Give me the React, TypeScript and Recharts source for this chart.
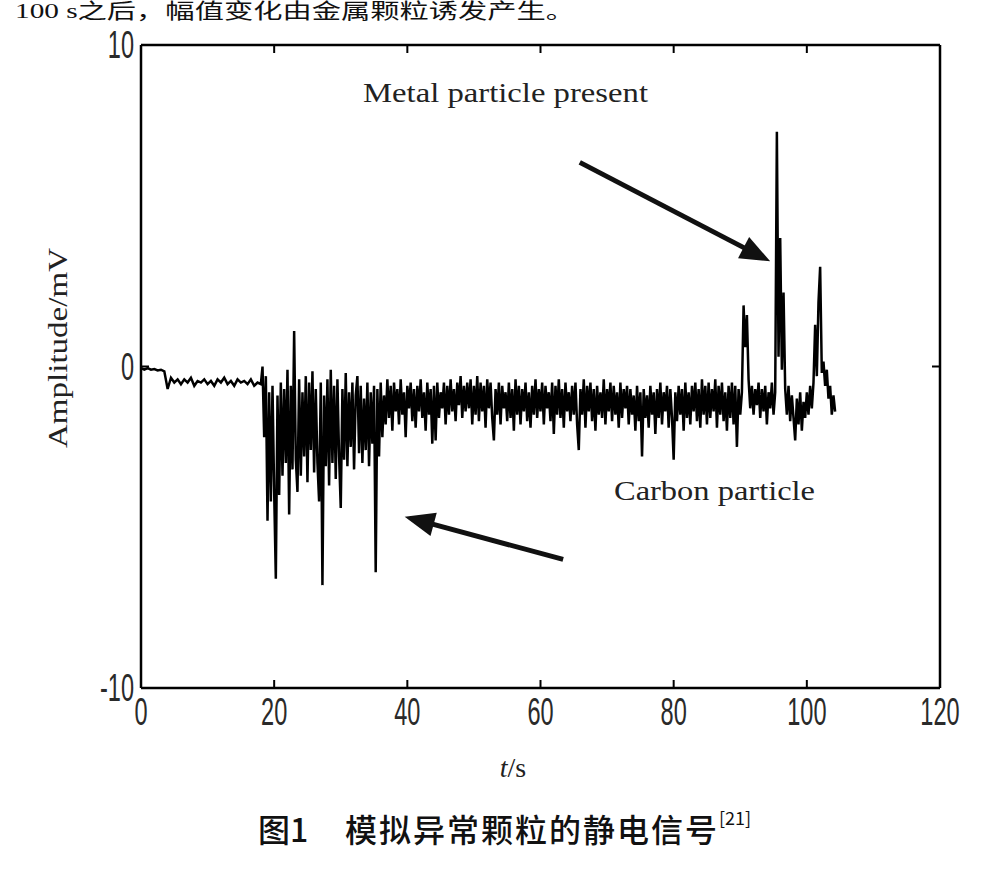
import React from "react";
import { LineChart, Line, XAxis, YAxis, ReferenceLine } from "recharts";

// 静電信号（模擬異常粒子）: 区間ごとのサンプル値 [mV]

// 0–18 s, 0.5 s 間隔
const baselineStart = 0;
const baselineStep = 0.5;
const baseline = [
  -0.05, -0.1, -0.05, -0.1, -0.08, -0.12, -0.1, -0.15, -0.7, -0.35, -0.5, -0.4,
  -0.55, -0.4, -0.5, -0.35, -0.6, -0.45, -0.5, -0.4, -0.55, -0.45, -0.6, -0.4,
  -0.5, -0.35, -0.55, -0.45, -0.6, -0.4, -0.5, -0.45, -0.55, -0.4, -0.6, -0.5,
  -0.55,
];

// 18.25–37 s, 炭素粒子のバースト
const carbonStart = 18.25;
const carbonStep = 0.25;
const carbonBurst = [
  0.0, -2.2, -0.3, -4.8, -0.8, -4.2, -0.6, -3.9, -6.6, -0.9, -4.0, -0.5,
  -3.4, -0.7, -3.0, -0.1, -4.6, -0.6, -3.2, 1.1, -2.9, -3.9, -0.4, -3.4,
  -0.8, -2.8, -0.3, -3.6, -0.5, -2.6, -0.15, -3.3, -0.7, -3.0, -4.2, -0.5,
  -6.8, -0.9, -3.1, -0.4, -3.7, -0.1, -3.0, -0.6, -3.5, -0.4, -2.8, -4.4,
  -0.7, -2.9, -0.2, -3.1, -0.8, -2.5, -0.5, -3.2, -0.9, -0.3, -2.7, -0.6,
  -3.0, -1.0, -2.6, -0.5, -3.1, -0.8, -2.4, -0.6, -6.4, -0.7, -2.8, -0.5,
  -2.2, -0.9, -1.8, -0.4,
];

// 37.25–90.25 s, 定常ノイズ
const steadyStart = 37.25;
const steadyStep = 0.25;
const steadyNoise = [
  -1.6, -0.6, -2.0, -0.5, -1.4, -0.7, -1.8, -0.4,
  -1.5, -0.8, -2.2, -0.6, -1.3, -0.5, -1.7, -0.7,
  -1.9, -0.6, -1.4, -0.4, -1.6, -0.8, -2.0, -0.5,
  -1.5, -0.7, -2.4, -0.6, -2.3, -0.5, -1.6, -0.8,
  -1.3, -0.5, -1.8, -0.6, -1.5, -0.4, -1.4, -0.7,
  -1.7, -0.5, -1.2, -0.3, -1.6, -0.6, -1.4, -0.5,
  -1.3, -0.4, -1.8, -0.6, -1.5, -0.3, -1.7, -0.5,
  -1.4, -0.6, -1.9, -0.4, -1.3, -0.5, -1.6, -2.3,
  -0.7, -1.5, -0.5, -1.8, -0.6, -1.3, -0.8, -1.7,
  -0.5, -1.6, -0.7, -2.0, -0.4, -1.5, -0.6, -1.8,
  -0.7, -1.4, -0.5, -1.7, -0.8, -1.9, -0.6, -1.5,
  -0.4, -1.6, -0.7, -1.4, -0.5, -1.8, -0.6, -1.3,
  -0.8, -1.7, -0.5, -2.1, -0.6, -1.5, -0.4, -1.6,
  -0.7, -1.9, -0.5, -1.4, -0.8, -1.7, -0.6, -1.5,
  -0.5, -1.8, -2.6, -0.7, -1.5, -0.4, -1.9, -0.6,
  -1.4, -0.5, -1.7, -0.7, -2.0, -0.6, -1.5, -0.8,
  -1.6, -0.4, -1.8, -0.7, -1.4, -0.5, -1.7, -0.6,
  -1.5, -0.8, -1.9, -0.5, -1.6, -0.7, -1.3, -0.6,
  -1.8, -0.7, -1.5, -0.9, -2.0, -0.6, -1.7, -0.8,
  -2.8, -0.7, -1.6, -0.9, -1.9, -0.6, -1.5, -0.8,
  -2.1, -0.7, -1.6, -0.5, -1.8, -0.8, -1.4, -0.6,
  -1.9, -0.7, -1.6, -2.9, -0.8, -1.7, -0.6, -1.5,
  -0.7, -2.0, -0.5, -1.6, -0.8, -1.8, -0.6, -1.4,
  -0.5, -1.7, -0.7, -1.9, -0.4, -1.5, -0.6, -1.8,
  -0.5, -1.6, -0.7, -1.4, -0.4, -1.9, -0.6, -1.5,
  -0.5, -1.7, -0.8, -2.0, -0.6, -1.6, -0.5, -1.8,
  -0.6, -2.5, -0.7, -1.5, -0.8,
];

// 90.5–104.25 s, 金属粒子のピーク
const metalStart = 90.5;
const metalStep = 0.25;
const metalPeaks = [
  1.9, 0.6, 1.6, -0.4, -1.3, -0.6, -1.5, -0.7, -1.2, -0.5, -1.6, -0.7,
  -1.4, -0.6, -1.8, -0.8, -1.3, -0.5, -1.5, -0.8, 7.3, 0.3, 4.0, -0.1,
  2.3, -0.7, -1.5, -0.6, -1.7, -0.9, -1.6, -2.3, -1.0, -1.8, -0.8, -2.0,
  -1.1, -1.6, -0.8, -1.5, -0.6, -1.3, -0.5, 1.3, -0.3, 2.0, 3.1, -0.2,
  0.15, -0.6, -0.1, -1.0, -0.6, -1.5, -0.9, -1.4,
];

const xTicks = [0, 20, 40, 60, 80, 100, 120];
const yTicks = [-10, 0, 10];

// 注釈の矢印（データ座標）
const arrows = [
  { from: { x: 65.9, y: 6.35 }, to: { x: 94.5, y: 3.27 } },
  { from: { x: 63.4, y: -6.0 }, to: { x: 39.6, y: -4.67 } },
];

const segments = [
  { start: baselineStart, step: baselineStep, values: baseline },
  { start: carbonStart, step: carbonStep, values: carbonBurst },
  { start: steadyStart, step: steadyStep, values: steadyNoise },
  { start: metalStart, step: metalStep, values: metalPeaks },
];

const data = segments.flatMap((s) =>
  s.values.map((v, i) => ({ t: +(s.start + i * s.step).toFixed(2), v }))
);

const TICK_FONT = "'Liberation Sans', Arial, sans-serif";
const SERIF = "'Liberation Serif', 'Times New Roman', serif";

function BottomTick({ x, y, payload }: any) {
  const inner = payload.value !== 0 && payload.value !== 120;
  return (
    <g>
      {inner && <line x1={x} x2={x} y1={y} y2={y - 8} stroke="#000" strokeWidth={2} />}
      <text
        transform={`translate(${x},${y + 37}) scale(0.62,1)`}
        textAnchor="middle"
        fontSize={38}
        fontFamily={TICK_FONT}
        fill="#2a2a2a"
      >
        {payload.value}
      </text>
    </g>
  );
}

function TopTick({ x, y, payload }: any) {
  if (payload.value === 0 || payload.value === 120) return <g />;
  return <line x1={x} x2={x} y1={y} y2={y + 8} stroke="#000" strokeWidth={2} />;
}

function LeftTick({ x, y, payload }: any) {
  return (
    <g>
      {payload.value === 0 && <line x1={x} x2={x + 8} y1={y} y2={y} stroke="#000" strokeWidth={2} />}
      <text
        transform={`translate(${x - 7},${y + 13}) scale(0.62,1)`}
        textAnchor="end"
        fontSize={38}
        fontFamily={TICK_FONT}
        fill="#2a2a2a"
      >
        {payload.value}
      </text>
    </g>
  );
}

function RightTick({ x, y, payload }: any) {
  if (payload.value !== 0) return <g />;
  return <line x1={x} x2={x - 8} y1={y} y2={y} stroke="#000" strokeWidth={2} />;
}

function arrowShape(p: any) {
  const { x1, y1, x2, y2 } = p;
  const dx = x2 - x1;
  const dy = y2 - y1;
  const len = Math.hypot(dx, dy) || 1;
  const ux = dx / len;
  const uy = dy / len;
  const hl = 30;
  const hw = 12;
  const bx = x2 - ux * hl;
  const by = y2 - uy * hl;
  return (
    <g>
      <line x1={x1} y1={y1} x2={bx + ux * 4} y2={by + uy * 4} stroke="#111" strokeWidth={5} />
      <polygon
        points={`${x2},${y2} ${bx - uy * hw},${by + ux * hw} ${bx + uy * hw},${by - ux * hw}`}
        fill="#111"
      />
    </g>
  );
}

export default function App() {
  return (
    <div style={{ position: "absolute", left: 0, top: 0, width: 1004, height: 876, background: "#fff" }}>
      <LineChart
        width={1004}
        height={876}
        data={data}
        margin={{ top: 15, right: 34, left: 101, bottom: 148 }}
      >
        <XAxis
          xAxisId="b"
          dataKey="t"
          type="number"
          domain={[0, 120]}
          ticks={xTicks}
          allowDataOverflow
          height={40}
          tickSize={0}
          tickMargin={0}
          tickLine={false}
          axisLine={{ stroke: "#000", strokeWidth: 2.5 }}
          tick={<BottomTick />}
          interval={0}
        />
        <XAxis
          xAxisId="t"
          orientation="top"
          dataKey="t"
          type="number"
          domain={[0, 120]}
          ticks={xTicks}
          allowDataOverflow
          height={30}
          tickSize={0}
          tickMargin={0}
          tickLine={false}
          axisLine={{ stroke: "#000", strokeWidth: 2.5 }}
          tick={<TopTick />}
          interval={0}
        />
        <YAxis
          yAxisId="l"
          type="number"
          domain={[-10, 10]}
          ticks={yTicks}
          allowDataOverflow
          width={40}
          tickSize={0}
          tickMargin={0}
          tickLine={false}
          axisLine={{ stroke: "#000", strokeWidth: 2.5 }}
          tick={<LeftTick />}
          interval={0}
        />
        <YAxis
          yAxisId="r"
          orientation="right"
          type="number"
          domain={[-10, 10]}
          ticks={yTicks}
          allowDataOverflow
          width={30}
          tickSize={0}
          tickMargin={0}
          tickLine={false}
          axisLine={{ stroke: "#000", strokeWidth: 2.5 }}
          tick={<RightTick />}
          interval={0}
        />
        <Line
          xAxisId="b"
          yAxisId="l"
          type="linear"
          dataKey="v"
          stroke="#000"
          strokeWidth={2.5}
          strokeLinejoin="miter"
          dot={false}
          activeDot={false}
          isAnimationActive={false}
        />
        {arrows.map((a, i) => (
          <ReferenceLine
            key={i}
            xAxisId="b"
            yAxisId="l"
            segment={[a.from, a.to]}
            ifOverflow="visible"
            shape={arrowShape}
          />
        ))}
      </LineChart>

      <svg
        width={1004}
        height={876}
        style={{ position: "absolute", left: 0, top: 0, pointerEvents: "none" }}
      >
        {/* 上端の本文（元画像では途中で切れている） */}
        <text
          x={15}
          y={18}
          fontSize={21}
          fontFamily="'Liberation Serif', 'Noto Sans CJK SC', serif"
          fill="#111"
          textLength={560}
          lengthAdjust="spacingAndGlyphs"
        >
          100 s之后，幅值变化由金属颗粒诱发产生。
        </text>

        <text x={363} y={102} fontSize={28} fontFamily={SERIF} fill="#222" textLength={285} lengthAdjust="spacingAndGlyphs">
          Metal particle present
        </text>
        <text x={614} y={500} fontSize={28} fontFamily={SERIF} fill="#222" textLength={201} lengthAdjust="spacingAndGlyphs">
          Carbon particle
        </text>
        <text
          transform="translate(67,448) rotate(-90)"
          fontSize={28}
          fontFamily={SERIF}
          fill="#222"
          textLength={200}
          lengthAdjust="spacingAndGlyphs"
        >
          Amplitude/mV
        </text>
        <text x={513} y={777} fontSize={28} fontFamily={SERIF} fill="#222" textAnchor="middle">
          <tspan fontStyle="italic">t</tspan>/s
        </text>

        {/* 図のキャプション */}
        <text x={258} y={842} fontSize={32} fontFamily="'Noto Sans CJK SC', sans-serif" fontWeight={500} fill="#111">
          图1
        </text>
        <text
          x={345}
          y={842}
          fontSize={32}
          fontFamily="'Noto Sans CJK SC', sans-serif"
          fontWeight={500}
          fill="#111"
          textLength={372}
          lengthAdjust="spacing"
        >
          模拟异常颗粒的静电信号
        </text>
        <text x={719} y={825} fontSize={18} fontFamily="'Noto Sans CJK SC', sans-serif" fill="#111">
          [21]
        </text>
      </svg>
    </div>
  );
}
